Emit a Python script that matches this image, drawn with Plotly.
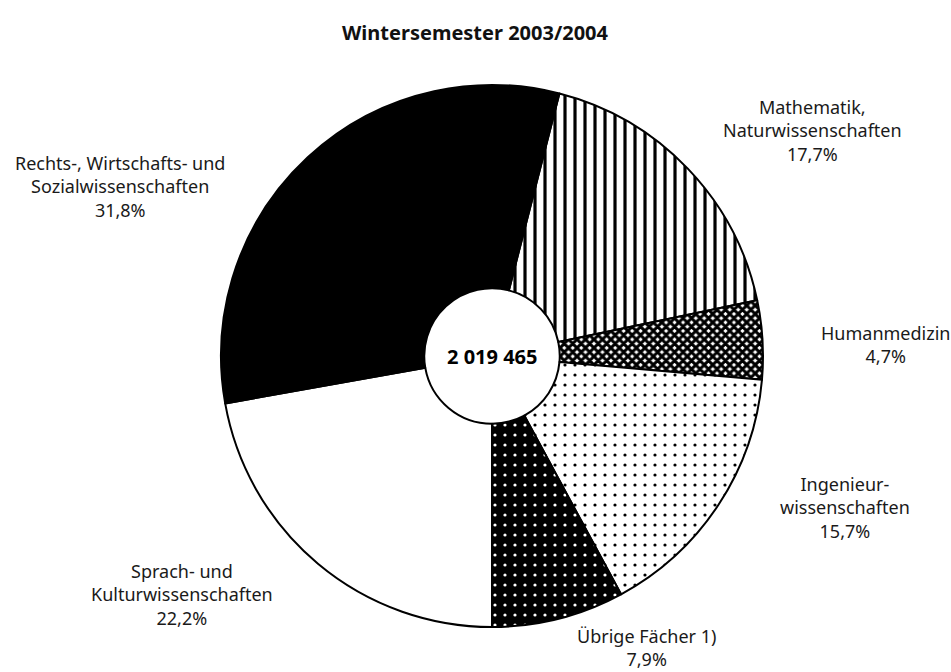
import plotly.graph_objects as go

# ---- data ----
categories = ["Mathematik, Naturwissenschaften", "Humanmedizin", "Ingenieurwissenschaften",
              "Übrige Fächer 1)", "Sprach- und Kulturwissenschaften",
              "Rechts-, Wirtschafts- und Sozialwissenschaften"]
shares = [17.7, 4.7, 15.7, 7.9, 22.2, 31.8]
label_texts = ["Mathematik,<br>Naturwissenschaften<br>17,7%",
               "Humanmedizin<br>4,7%",
               "Ingenieur-<br>wissenschaften<br>15,7%",
               "Übrige Fächer 1)<br>7,9%",
               "Sprach- und<br>Kulturwissenschaften<br>22,2%",
               "Rechts-, Wirtschafts- und<br>Sozialwissenschaften<br>31,8%"]
total_text = "2 019 465"
title_text = "Wintersemester 2003/2004"

# ---- styles ----
W, H = 951, 672
FONT = "Noto Sans"
shapes = ["|", "x", ".", ".", "", ""]
bg = ["white", "white", "white", "black", "white", "black"]
fg = ["black", "black", "black", "white", "black", "black"]
psize = [10, 6, 10, 10, 8, 8]
solid = [0.32, 0.75, 0.08, 0.08, 0.3, 0.3]
fillc = ["white", "white", "white", "black", "white", "black"]

# label anchor positions in pixels (x center, y center)
label_pos = [(812, 130), (885, 344), (845, 507), (646, 647), (182, 594), (120, 186)]

cx, cy, r = 492, 356, 271
fig = go.Figure(go.Pie(
    labels=categories, values=shares, sort=False, direction="clockwise", rotation=14.4,
    hole=0.25, textinfo="none", hoverinfo="label+percent", showlegend=False,
    marker=dict(colors=fillc, line=dict(color="black", width=2),
                pattern=dict(shape=shapes, bgcolor=bg, fgcolor=fg, size=psize,
                             solidity=solid, fillmode="replace")),
    domain=dict(x=[(cx - r) / W, (cx + r) / W], y=[1 - (cy + r) / H, 1 - (cy - r) / H]),
))

ann = []
for t, (px, py) in zip(label_texts, label_pos):
    ann.append(dict(text=t, x=px / W, y=1 - py / H, xref="paper", yref="paper",
                    xanchor="center", yanchor="middle", align="center", showarrow=False,
                    font=dict(family=FONT, size=18, color="#1a1a1a")))
ann.append(dict(text="<b>" + total_text + "</b>", x=cx / W, y=1 - cy / H, xref="paper", yref="paper",
                xanchor="center", yanchor="middle", showarrow=False,
                font=dict(family=FONT, size=20, color="black")))

fig.update_layout(
    width=W, height=H, margin=dict(l=0, r=0, t=0, b=0),
    paper_bgcolor="white", plot_bgcolor="white",
    title=dict(text="<b>" + title_text + "</b>", x=475 / W, xanchor="center", y=1 - 33 / H, yanchor="middle",
               font=dict(family=FONT, size=20, color="#111")),
    annotations=ann,
)
fig.write_html("out.html", config={"displayModeBar": False},
               post_script="document.body.style.margin='0';")
